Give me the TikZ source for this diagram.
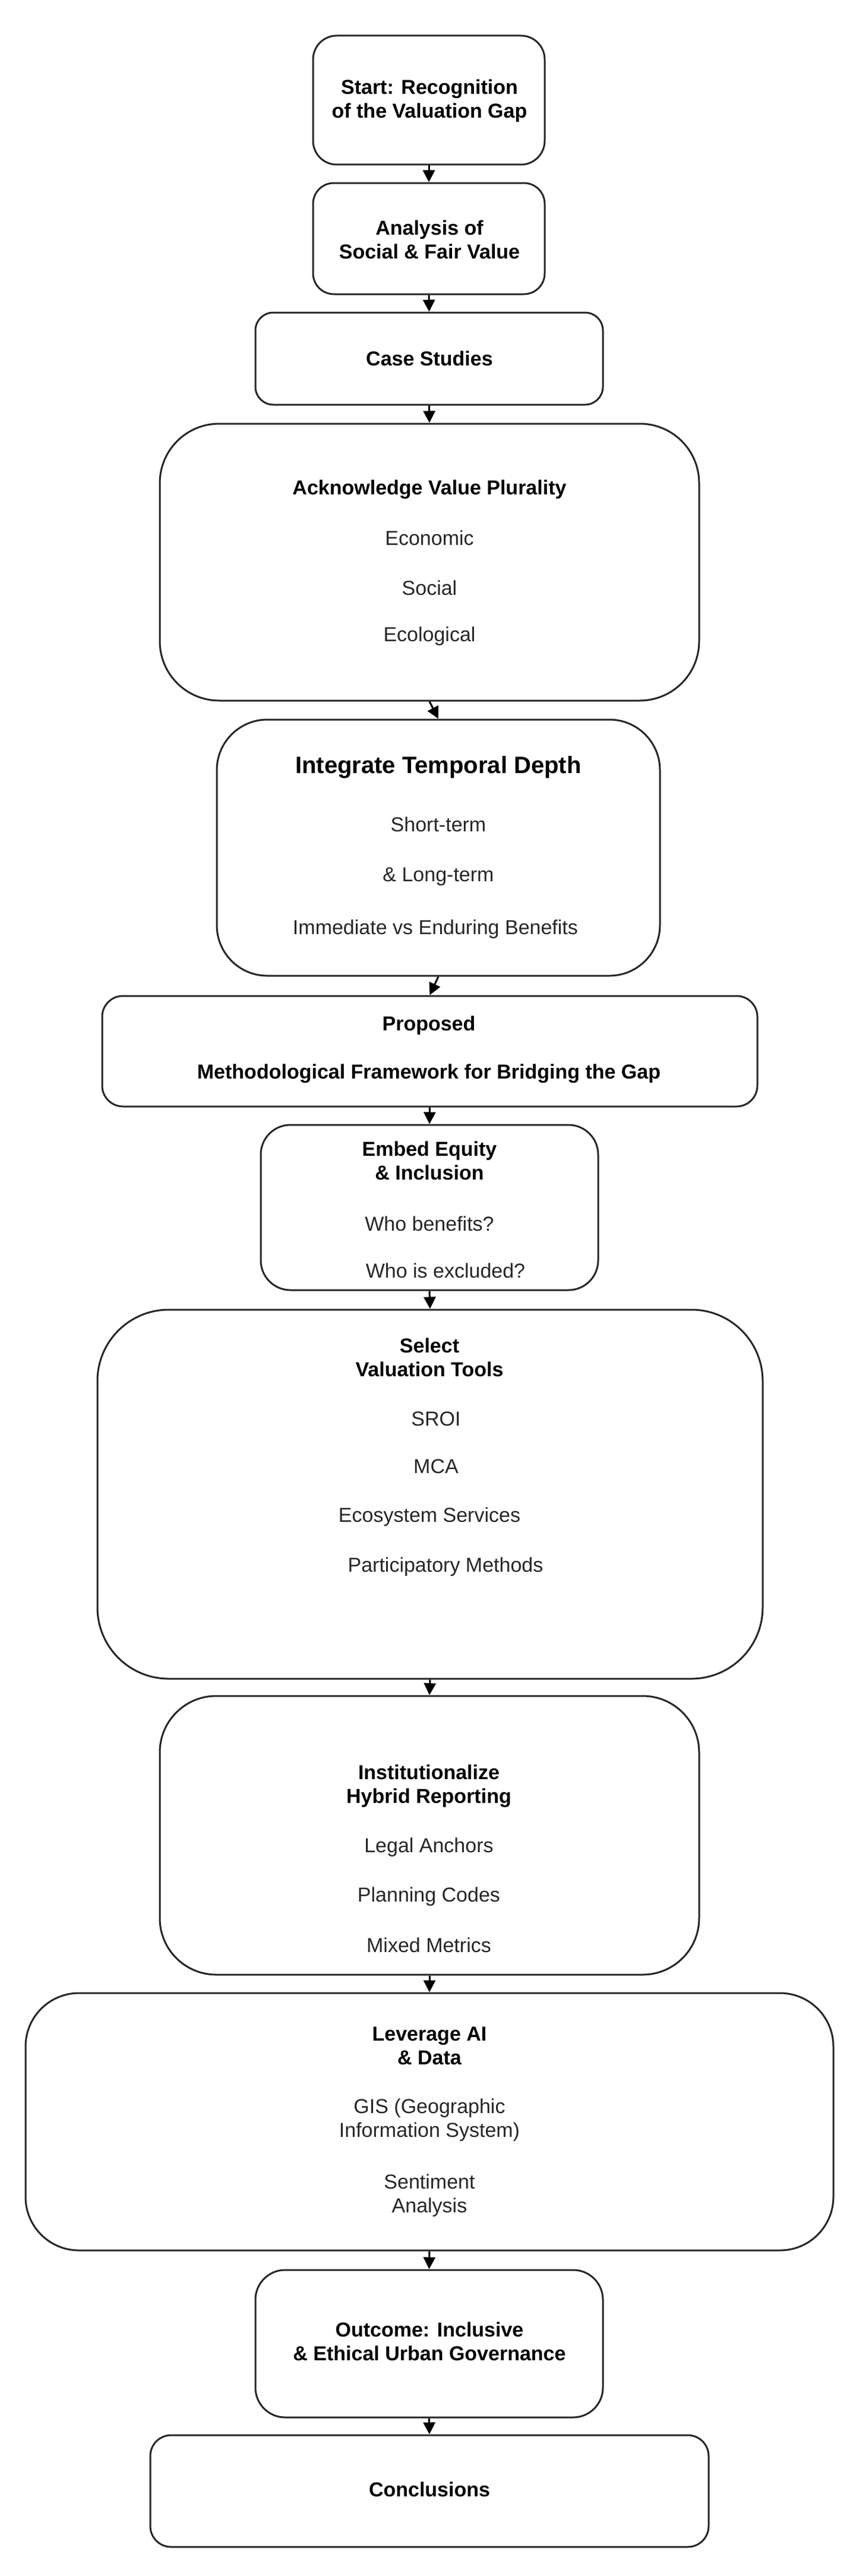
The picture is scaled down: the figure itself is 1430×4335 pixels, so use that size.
\documentclass[tikz,border=0pt]{standalone}
\usepackage{fontspec}
\setmainfont{Liberation Sans}
\usetikzlibrary{arrows.meta}
\begin{document}
\begin{tikzpicture}[x=1pt,y=-1pt,
  box/.style={draw=black!85,line width=3pt,inner sep=0pt},
  bt/.style={font=\fontsize{34}{40}\selectfont\bfseries,inner sep=0pt,align=center},
  nt/.style={font=\fontsize{34}{40}\selectfont,inner sep=0pt,align=center,text=black!85},
  arr/.style={line width=3pt,-{Triangle[length=20pt,width=20pt]}}]
\useasboundingbox (0,0) rectangle (1430,4335);
\newcommand{\bx}[6]{\node[box,rounded corners=#6,minimum width=#4-#2,minimum height=#5-#3] (#1) at ({(#2+#4)/2},{(#3+#5)/2}) {};}
\bx{b1}{527}{60}{917}{277}{40pt}
\bx{b2}{527}{308}{917}{495}{35pt}
\bx{b3}{430}{526}{1015}{681}{30pt}
\bx{b4}{269}{713}{1177}{1179}{100pt}
\bx{b5}{365}{1211}{1111}{1642}{85pt}
\bx{b6}{172}{1676}{1275}{1862}{35pt}
\bx{b7}{439}{1893}{1007}{2171}{50pt}
\bx{b8}{164}{2204}{1284}{2825}{120pt}
\bx{b9}{269}{2854}{1177}{3323}{95pt}
\bx{b10}{43}{3354}{1403}{3787}{90pt}
\bx{b11}{430}{3820}{1015}{4068}{50pt}
\bx{b12}{253}{4098}{1193}{4286}{35pt}
\foreach \a/\b in {b1/b2,b2/b3,b3/b4,b4/b5,b5/b6,b6/b7,b7/b8,b8/b9,b9/b10,b10/b11,b11/b12}
  \draw[arr] (\a.south) -- (\b.north);
% texts
\node[bt] (t1) at (723,170) {Start: Recognition\\of the Valuation Gap};
\node[bt] (t2) at (723,403) {Analysis of\\Social \& Fair Value};
\node[bt] (t3) at (723,603) {Case Studies};
\node[bt] (t4a) at (723,824) {Acknowledge Value Plurality};
\node[nt] (t4b) at (723,905) {Economic};
\node[nt] (t4c) at (723,989) {Social};
\node[nt] (t4d) at (723,1071) {Ecological};
\node[bt,font=\fontsize{40}{46}\selectfont\bfseries] (t5a) at (738,1291) {Integrate Temporal Depth};
\node[nt] (t5b) at (738,1387) {Short-term};
\node[nt] (t5c) at (738,1475) {\& Long-term};
\node[nt] (t5d) at (733,1564) {Immediate vs Enduring Benefits};
\node[bt] (t6a) at (722,1726) {Proposed};
\node[bt] (t6b) at (722,1807) {Methodological Framework for Bridging the Gap};
\node[bt] (t7a) at (723,1953) {Embed Equity\\\& Inclusion};
\node[nt] (t7b) at (723,2059) {Who benefits?};
\node[nt] (t7c) at (750,2138) {Who is excluded?};
\node[bt] (t8a) at (723,2284) {Select\\Valuation Tools};
\node[nt] (t8b) at (734,2388) {SROI};
\node[nt] (t8c) at (734,2468) {MCA};
\node[nt] (t8d) at (723,2553) {Ecosystem Services};
\node[nt] (t8e) at (750,2637) {Participatory Methods};
\node[bt] (t9a) at (722,3006) {Institutionalize\\Hybrid Reporting};
\node[nt] (t9b) at (722,3109) {Legal Anchors};
\node[nt] (t9c) at (722,3192) {Planning Codes};
\node[nt] (t9d) at (722,3273) {Mixed Metrics};
\node[bt] (t10a) at (723,3443) {Leverage AI\\\& Data};
\node[nt] (t10b) at (723,3568) {GIS (Geographic\\Information System)};
\node[nt] (t10c) at (723,3695) {Sentiment\\Analysis};
\node[bt] (t11) at (723,3940) {Outcome: Inclusive\\\& Ethical Urban Governance};
\node[bt] (t12) at (723,4189) {Conclusions};
\end{tikzpicture}
\end{document}
